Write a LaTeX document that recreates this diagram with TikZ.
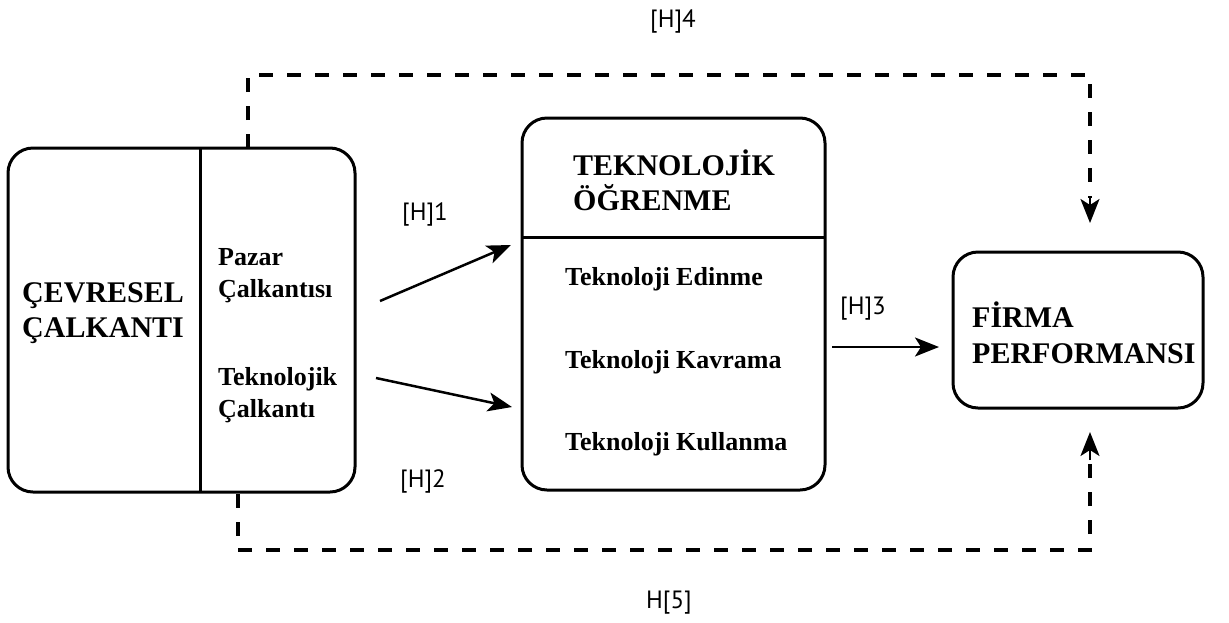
\documentclass[tikz,border=0pt]{standalone}
\usepackage{fontspec}
\setmainfont{Liberation Serif}
\newfontfamily\labfont{PT Sans}
\usetikzlibrary{arrows.meta}
\begin{document}
\begin{tikzpicture}[x=1pt,y=-1pt,
  box/.style={draw,line width=3pt,rounded corners=25pt,inner sep=0pt},
  big/.style={font=\bfseries\fontsize{30}{35}\selectfont,align=left,inner sep=0pt},
  small/.style={font=\bfseries\fontsize{26}{32}\selectfont,align=left,inner sep=0pt},
  lab/.style={font=\labfont\fontsize{25}{28}\selectfont,inner sep=0pt},
  arr/.style={line width=2.5pt,-{Stealth[length=24pt,width=19pt,inset=6pt]}},
  dsh/.style={line width=3.2pt,dash pattern=on 14pt off 14pt}]
\useasboundingbox (0,0) rectangle (1229,622);
% boxes
\node[box,minimum width=347pt,minimum height=344pt] (L) at (181.5,320) {};
\node[box,minimum width=303pt,minimum height=372pt] (M) at (673.5,304) {};
\node[box,minimum width=250pt,minimum height=156pt] (R) at (1078,330) {};
% dividers
\coordinate (ldt) at (200,148);
\coordinate (ldb) at (200,492);
\draw[line width=3pt] (ldt) -- (ldb);
\coordinate (mdl) at (522,237);
\coordinate (mdr) at (825,237);
\draw[line width=3pt] (mdl) -- (mdr);
% texts
\node[big,anchor=base west] (t1) at (22,302) {ÇEVRESEL};
\node[big,anchor=base west] (t2) at (22,337) {ÇALKANTI};
\node[small,anchor=base west] (t3) at (218,265) {Pazar};
\node[small,anchor=base west] (t4) at (218,297) {Çalkantısı};
\node[small,anchor=base west] (t5) at (218,385) {Teknolojik};
\node[small,anchor=base west] (t6) at (218,417) {Çalkantı};
\node[big,anchor=base west] (t7) at (573,175) {TEKNOLOJİK};
\node[big,anchor=base west] (t8) at (573,210) {ÖĞRENME};
\node[small,anchor=base west] (t9) at (565,285) {Teknoloji Edinme};
\node[small,anchor=base west] (t10) at (565,368) {Teknoloji Kavrama};
\node[small,anchor=base west] (t11) at (565,450) {Teknoloji Kullanma};
\node[big,anchor=base west] (t12) at (972,327) {FİRMA};
\node[big,anchor=base west] (t13) at (972,363) {PERFORMANSI};
% labels
\node[lab] (h4) at (673,21) {[H]4};
\node[lab] (h1) at (425,214) {[H]1};
\node[lab] (h2) at (423,481) {[H]2};
\node[lab] (h3) at (863,309) {[H]3};
\node[lab] (h5) at (669,603) {H[5]};
% solid arrows
\coordinate (a1s) at (380,301);
\coordinate (a1e) at (511,245);
\coordinate (a2s) at (376,378);
\coordinate (a2e) at (512,407);
\coordinate (a3s) at (832,347);
\coordinate (a3e) at (939,347);
\draw[arr] (a1s) -- (a1e);
\draw[arr] (a2s) -- (a2e);
\draw[arr] (a3s) -- (a3e);
% dashed paths
\coordinate (d1s) at (248,148);
\coordinate (d1e) at (1090,223);
\draw[dsh] (d1s) -- (248,75) -- (1090,75) -- (1090,198);
\draw[arr] (1090,196) -- (d1e);
\coordinate (d2s) at (238,494);
\coordinate (d2e) at (1090,432);
\draw[dsh] (d2s) -- (238,550) -- (1090,550) -- (1090,458);
\draw[arr] (1090,460) -- (d2e);
\end{tikzpicture}
\end{document}
